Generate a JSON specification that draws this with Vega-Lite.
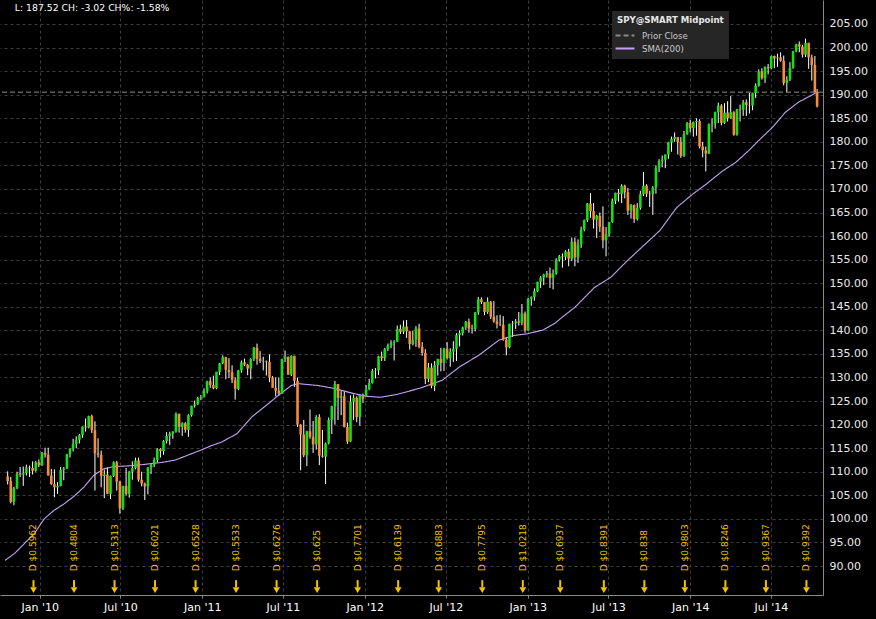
{
"$schema":"https://vega.github.io/schema/vega-lite/v6.json",
"width":823,"height":595,
"autosize":{"type":"none"},
"padding":{"left":0,"top":0,"right":53,"bottom":24},
"background":"#000000",
"datasets":{
"candles":[
{"d":"2009-10-21","o":109.0,"h":110.1,"l":107.3,"c":108.0},
{"d":"2009-10-28","o":108.0,"h":108.9,"l":103.3,"c":103.6},
{"d":"2009-11-04","o":103.6,"h":106.8,"l":102.9,"c":106.5},
{"d":"2009-11-11","o":106.5,"h":110.0,"l":106.3,"c":109.6},
{"d":"2009-11-18","o":109.6,"h":111.0,"l":108.9,"c":109.4},
{"d":"2009-11-25","o":109.4,"h":111.1,"l":107.0,"c":109.7},
{"d":"2009-12-02","o":109.7,"h":111.5,"l":109.2,"c":110.9},
{"d":"2009-12-09","o":110.9,"h":111.3,"l":108.9,"c":110.8},
{"d":"2009-12-16","o":110.8,"h":112.2,"l":109.4,"c":110.2},
{"d":"2009-12-23","o":110.2,"h":112.3,"l":110.0,"c":112.0},
{"d":"2009-12-30","o":112.0,"h":112.6,"l":111.0,"c":111.4},
{"d":"2010-01-06","o":111.4,"h":114.2,"l":111.2,"c":114.0},
{"d":"2010-01-13","o":114.0,"h":115.1,"l":113.0,"c":113.6},
{"d":"2010-01-20","o":113.6,"h":115.1,"l":109.2,"c":109.2},
{"d":"2010-01-27","o":109.2,"h":110.6,"l":107.2,"c":107.4},
{"d":"2010-02-03","o":107.4,"h":110.5,"l":104.6,"c":106.7},
{"d":"2010-02-10","o":106.7,"h":107.8,"l":105.3,"c":107.0},
{"d":"2010-02-17","o":107.0,"h":111.0,"l":106.9,"c":110.4},
{"d":"2010-02-24","o":110.4,"h":111.0,"l":108.2,"c":110.7},
{"d":"2010-03-03","o":110.7,"h":113.8,"l":110.6,"c":113.7},
{"d":"2010-03-10","o":113.7,"h":115.0,"l":113.0,"c":114.9},
{"d":"2010-03-17","o":114.9,"h":117.0,"l":114.3,"c":115.9},
{"d":"2010-03-24","o":115.9,"h":117.5,"l":115.0,"c":116.8},
{"d":"2010-03-31","o":116.8,"h":118.0,"l":116.0,"c":117.8},
{"d":"2010-04-07","o":117.8,"h":119.6,"l":117.2,"c":119.6},
{"d":"2010-04-14","o":119.6,"h":121.3,"l":118.5,"c":119.4},
{"d":"2010-04-21","o":119.4,"h":121.9,"l":119.2,"c":121.8},
{"d":"2010-04-28","o":121.8,"h":122.1,"l":118.2,"c":118.8},
{"d":"2010-05-05","o":118.8,"h":120.7,"l":106.0,"c":113.9},
{"d":"2010-05-12","o":113.9,"h":117.1,"l":113.0,"c":113.6},
{"d":"2010-05-19","o":113.6,"h":114.5,"l":106.7,"c":109.1},
{"d":"2010-05-26","o":109.1,"h":110.5,"l":104.4,"c":109.4},
{"d":"2010-06-02","o":109.4,"h":110.9,"l":105.3,"c":105.3},
{"d":"2010-06-09","o":105.3,"h":109.2,"l":104.2,"c":109.1},
{"d":"2010-06-16","o":109.1,"h":112.2,"l":108.9,"c":112.0},
{"d":"2010-06-23","o":112.0,"h":112.3,"l":106.0,"c":107.9},
{"d":"2010-06-30","o":107.9,"h":108.1,"l":101.1,"c":102.2},
{"d":"2010-07-07","o":102.2,"h":107.0,"l":101.9,"c":107.0},
{"d":"2010-07-14","o":107.0,"h":110.8,"l":105.0,"c":105.3},
{"d":"2010-07-21","o":105.3,"h":110.2,"l":104.5,"c":110.0},
{"d":"2010-07-28","o":110.0,"h":112.2,"l":108.3,"c":110.8},
{"d":"2010-08-04","o":110.8,"h":113.0,"l":110.5,"c":112.4},
{"d":"2010-08-11","o":112.4,"h":113.0,"l":107.9,"c":108.3},
{"d":"2010-08-18","o":108.3,"h":110.0,"l":106.9,"c":107.5},
{"d":"2010-08-25","o":107.5,"h":107.7,"l":104.0,"c":106.9},
{"d":"2010-09-01","o":106.9,"h":111.0,"l":105.2,"c":110.9},
{"d":"2010-09-08","o":110.9,"h":111.7,"l":109.5,"c":111.5},
{"d":"2010-09-15","o":111.5,"h":113.0,"l":111.0,"c":112.5},
{"d":"2010-09-22","o":112.5,"h":115.0,"l":112.0,"c":114.8},
{"d":"2010-09-29","o":114.8,"h":115.0,"l":113.0,"c":114.4},
{"d":"2010-10-06","o":114.4,"h":116.7,"l":113.6,"c":116.5},
{"d":"2010-10-13","o":116.5,"h":118.4,"l":116.0,"c":117.6},
{"d":"2010-10-20","o":117.6,"h":118.5,"l":115.7,"c":118.1},
{"d":"2010-10-27","o":118.1,"h":118.6,"l":117.0,"c":118.5},
{"d":"2010-11-03","o":118.5,"h":122.6,"l":118.3,"c":122.3},
{"d":"2010-11-10","o":122.3,"h":122.3,"l":118.3,"c":119.5},
{"d":"2010-11-17","o":119.5,"h":120.5,"l":117.6,"c":120.3},
{"d":"2010-11-24","o":120.3,"h":120.5,"l":118.3,"c":118.9},
{"d":"2010-12-01","o":118.9,"h":122.2,"l":117.4,"c":122.0},
{"d":"2010-12-08","o":122.0,"h":124.0,"l":121.7,"c":124.0},
{"d":"2010-12-15","o":124.0,"h":125.1,"l":123.6,"c":124.3},
{"d":"2010-12-22","o":124.3,"h":125.9,"l":124.2,"c":125.6},
{"d":"2010-12-29","o":125.6,"h":126.3,"l":125.2,"c":125.8},
{"d":"2011-01-05","o":125.8,"h":127.7,"l":125.8,"c":127.1},
{"d":"2011-01-12","o":127.1,"h":129.3,"l":126.6,"c":129.2},
{"d":"2011-01-19","o":129.2,"h":130.0,"l":127.8,"c":128.4},
{"d":"2011-01-26","o":128.4,"h":130.4,"l":127.5,"c":127.7},
{"d":"2011-02-02","o":127.7,"h":131.2,"l":127.5,"c":131.2},
{"d":"2011-02-09","o":131.2,"h":133.1,"l":130.5,"c":133.0},
{"d":"2011-02-16","o":133.0,"h":134.7,"l":132.8,"c":134.3},
{"d":"2011-02-23","o":134.3,"h":134.4,"l":129.6,"c":131.6},
{"d":"2011-03-02","o":131.6,"h":134.1,"l":129.9,"c":131.1},
{"d":"2011-03-09","o":131.1,"h":132.6,"l":128.8,"c":129.5},
{"d":"2011-03-16","o":129.5,"h":130.0,"l":125.3,"c":127.6},
{"d":"2011-03-23","o":127.6,"h":131.6,"l":127.3,"c":131.5},
{"d":"2011-03-30","o":131.5,"h":133.6,"l":131.0,"c":133.2},
{"d":"2011-04-06","o":133.2,"h":134.0,"l":132.4,"c":132.7},
{"d":"2011-04-13","o":132.7,"h":132.9,"l":130.5,"c":131.9},
{"d":"2011-04-20","o":131.9,"h":134.1,"l":129.6,"c":133.9},
{"d":"2011-04-27","o":133.9,"h":136.5,"l":133.5,"c":136.3},
{"d":"2011-05-04","o":136.3,"h":137.2,"l":132.7,"c":134.0},
{"d":"2011-05-11","o":134.0,"h":135.6,"l":133.1,"c":133.5},
{"d":"2011-05-18","o":133.5,"h":134.4,"l":131.5,"c":133.4},
{"d":"2011-05-25","o":133.4,"h":133.6,"l":130.4,"c":133.3},
{"d":"2011-06-01","o":133.3,"h":134.9,"l":129.0,"c":130.0},
{"d":"2011-06-08","o":130.0,"h":130.3,"l":127.9,"c":127.8},
{"d":"2011-06-15","o":127.8,"h":130.0,"l":126.0,"c":127.2},
{"d":"2011-06-22","o":127.2,"h":130.0,"l":126.1,"c":126.6},
{"d":"2011-06-29","o":126.6,"h":134.0,"l":126.5,"c":133.9},
{"d":"2011-07-06","o":133.9,"h":135.7,"l":133.3,"c":134.4},
{"d":"2011-07-13","o":134.4,"h":134.4,"l":130.6,"c":130.6},
{"d":"2011-07-20","o":130.6,"h":134.7,"l":130.3,"c":134.6},
{"d":"2011-07-27","o":134.6,"h":134.6,"l":128.0,"c":129.3},
{"d":"2011-08-03","o":129.3,"h":130.0,"l":119.5,"c":120.0},
{"d":"2011-08-10","o":120.0,"h":120.1,"l":110.3,"c":117.9},
{"d":"2011-08-17","o":117.9,"h":121.0,"l":113.1,"c":113.5},
{"d":"2011-08-24","o":113.5,"h":118.7,"l":111.2,"c":118.6},
{"d":"2011-08-31","o":118.6,"h":123.2,"l":117.0,"c":117.4},
{"d":"2011-09-07","o":117.4,"h":120.8,"l":114.0,"c":115.8},
{"d":"2011-09-14","o":115.8,"h":122.0,"l":114.7,"c":121.6},
{"d":"2011-09-21","o":121.6,"h":122.2,"l":111.4,"c":113.4},
{"d":"2011-09-28","o":113.4,"h":118.9,"l":113.0,"c":113.2},
{"d":"2011-10-05","o":113.2,"h":116.2,"l":107.4,"c":116.0},
{"d":"2011-10-12","o":116.0,"h":121.5,"l":115.8,"c":121.0},
{"d":"2011-10-19","o":121.0,"h":124.0,"l":118.0,"c":123.9},
{"d":"2011-10-26","o":123.9,"h":129.3,"l":120.0,"c":128.6},
{"d":"2011-11-02","o":128.6,"h":128.6,"l":121.0,"c":125.7},
{"d":"2011-11-09","o":125.7,"h":127.1,"l":122.0,"c":126.0},
{"d":"2011-11-16","o":126.0,"h":127.0,"l":119.4,"c":119.5},
{"d":"2011-11-23","o":119.5,"h":120.4,"l":115.9,"c":116.4},
{"d":"2011-11-30","o":116.4,"h":126.2,"l":116.3,"c":124.9},
{"d":"2011-12-07","o":124.9,"h":126.4,"l":121.0,"c":125.7},
{"d":"2011-12-14","o":125.7,"h":126.0,"l":120.5,"c":121.6},
{"d":"2011-12-21","o":121.6,"h":126.4,"l":119.8,"c":126.3},
{"d":"2011-12-28","o":126.3,"h":126.6,"l":124.6,"c":125.5},
{"d":"2012-01-04","o":126.0,"h":128.4,"l":125.9,"c":127.5},
{"d":"2012-01-11","o":127.5,"h":129.7,"l":127.3,"c":128.8},
{"d":"2012-01-18","o":128.8,"h":131.8,"l":128.7,"c":131.4},
{"d":"2012-01-25","o":131.4,"h":132.0,"l":129.8,"c":131.5},
{"d":"2012-02-01","o":131.5,"h":134.6,"l":130.5,"c":134.5},
{"d":"2012-02-08","o":134.5,"h":135.5,"l":133.5,"c":134.1},
{"d":"2012-02-15","o":134.1,"h":136.3,"l":133.5,"c":136.0},
{"d":"2012-02-22","o":136.0,"h":137.2,"l":135.6,"c":136.8},
{"d":"2012-02-29","o":136.8,"h":137.9,"l":136.2,"c":137.4},
{"d":"2012-03-07","o":137.4,"h":137.9,"l":133.6,"c":137.6},
{"d":"2012-03-14","o":137.6,"h":141.0,"l":137.6,"c":140.3},
{"d":"2012-03-21","o":140.3,"h":141.2,"l":139.2,"c":139.7},
{"d":"2012-03-28","o":139.7,"h":142.1,"l":139.2,"c":140.8},
{"d":"2012-04-04","o":140.8,"h":142.2,"l":138.4,"c":139.8},
{"d":"2012-04-11","o":139.8,"h":139.8,"l":135.9,"c":137.1},
{"d":"2012-04-18","o":137.1,"h":139.9,"l":136.8,"c":138.0},
{"d":"2012-04-25","o":138.0,"h":140.9,"l":136.5,"c":140.4},
{"d":"2012-05-02","o":140.4,"h":141.4,"l":136.2,"c":136.5},
{"d":"2012-05-09","o":136.5,"h":137.5,"l":134.6,"c":135.2},
{"d":"2012-05-16","o":135.2,"h":136.0,"l":128.6,"c":129.7},
{"d":"2012-05-23","o":129.7,"h":133.1,"l":129.0,"c":132.1},
{"d":"2012-05-30","o":132.1,"h":133.0,"l":127.7,"c":128.2},
{"d":"2012-06-06","o":128.2,"h":133.5,"l":127.1,"c":132.6},
{"d":"2012-06-13","o":132.6,"h":134.0,"l":130.4,"c":133.9},
{"d":"2012-06-20","o":133.9,"h":136.3,"l":131.3,"c":133.1},
{"d":"2012-06-27","o":133.1,"h":136.3,"l":131.4,"c":136.1},
{"d":"2012-07-04","o":136.1,"h":137.5,"l":133.8,"c":134.1},
{"d":"2012-07-11","o":134.1,"h":136.2,"l":132.3,"c":135.5},
{"d":"2012-07-18","o":135.5,"h":137.7,"l":133.3,"c":136.1},
{"d":"2012-07-25","o":136.1,"h":139.4,"l":133.5,"c":139.0},
{"d":"2012-08-01","o":139.0,"h":140.0,"l":136.6,"c":139.4},
{"d":"2012-08-08","o":139.4,"h":140.8,"l":138.9,"c":140.6},
{"d":"2012-08-15","o":140.6,"h":142.0,"l":140.1,"c":141.8},
{"d":"2012-08-22","o":141.8,"h":142.5,"l":139.5,"c":140.4},
{"d":"2012-08-29","o":140.4,"h":141.2,"l":139.3,"c":140.3},
{"d":"2012-09-05","o":140.3,"h":143.9,"l":139.8,"c":143.8},
{"d":"2012-09-12","o":143.8,"h":147.1,"l":143.3,"c":146.6},
{"d":"2012-09-19","o":146.6,"h":147.0,"l":145.6,"c":146.0},
{"d":"2012-09-26","o":146.0,"h":146.0,"l":143.2,"c":143.9},
{"d":"2012-10-03","o":143.9,"h":147.0,"l":143.5,"c":146.1},
{"d":"2012-10-10","o":146.1,"h":146.2,"l":142.4,"c":142.9},
{"d":"2012-10-17","o":142.9,"h":146.2,"l":141.6,"c":141.9},
{"d":"2012-10-24","o":141.9,"h":143.2,"l":140.4,"c":141.3},
{"d":"2012-10-31","o":141.3,"h":143.3,"l":140.9,"c":141.2},
{"d":"2012-11-07","o":141.2,"h":143.0,"l":137.8,"c":138.0},
{"d":"2012-11-14","o":138.0,"h":138.6,"l":134.7,"c":136.4},
{"d":"2012-11-21","o":136.4,"h":141.4,"l":136.2,"c":141.4},
{"d":"2012-11-28","o":141.4,"h":142.0,"l":138.6,"c":141.5},
{"d":"2012-12-05","o":141.5,"h":142.4,"l":140.3,"c":141.9},
{"d":"2012-12-12","o":141.9,"h":143.9,"l":141.0,"c":141.6},
{"d":"2012-12-19","o":141.6,"h":145.6,"l":141.1,"c":143.6},
{"d":"2012-12-26","o":143.6,"h":144.0,"l":139.5,"c":140.0},
{"d":"2013-01-02","o":140.0,"h":146.9,"l":140.0,"c":146.7},
{"d":"2013-01-09","o":146.7,"h":147.2,"l":145.2,"c":147.1},
{"d":"2013-01-16","o":147.1,"h":148.9,"l":146.3,"c":148.3},
{"d":"2013-01-23","o":148.3,"h":150.3,"l":148.1,"c":150.3},
{"d":"2013-01-30","o":150.3,"h":151.5,"l":149.0,"c":151.2},
{"d":"2013-02-06","o":151.2,"h":152.0,"l":149.6,"c":151.8},
{"d":"2013-02-13","o":151.8,"h":152.6,"l":151.2,"c":152.1},
{"d":"2013-02-20","o":152.1,"h":153.3,"l":149.0,"c":151.1},
{"d":"2013-02-27","o":151.1,"h":152.9,"l":148.7,"c":152.1},
{"d":"2013-03-06","o":152.1,"h":155.3,"l":151.8,"c":155.0},
{"d":"2013-03-13","o":155.0,"h":156.0,"l":154.6,"c":155.7},
{"d":"2013-03-20","o":155.7,"h":156.3,"l":153.3,"c":155.6},
{"d":"2013-03-27","o":155.6,"h":157.0,"l":154.9,"c":156.7},
{"d":"2013-04-03","o":156.7,"h":157.3,"l":153.6,"c":155.2},
{"d":"2013-04-10","o":155.2,"h":159.7,"l":154.7,"c":158.8},
{"d":"2013-04-17","o":158.8,"h":159.7,"l":153.6,"c":155.5},
{"d":"2013-04-24","o":155.5,"h":159.3,"l":154.3,"c":158.2},
{"d":"2013-05-01","o":158.2,"h":162.0,"l":157.5,"c":161.4},
{"d":"2013-05-08","o":161.4,"h":163.5,"l":161.0,"c":163.4},
{"d":"2013-05-15","o":163.4,"h":167.0,"l":163.0,"c":166.9},
{"d":"2013-05-22","o":166.9,"h":169.1,"l":163.9,"c":165.3},
{"d":"2013-05-29","o":165.3,"h":167.0,"l":161.6,"c":163.5},
{"d":"2013-06-05","o":163.5,"h":164.5,"l":159.6,"c":164.3},
{"d":"2013-06-12","o":164.3,"h":165.0,"l":160.9,"c":162.0},
{"d":"2013-06-19","o":162.0,"h":166.3,"l":157.4,"c":159.1},
{"d":"2013-06-26","o":159.1,"h":161.9,"l":155.7,"c":160.4},
{"d":"2013-07-03","o":160.4,"h":163.0,"l":159.9,"c":163.0},
{"d":"2013-07-10","o":163.0,"h":168.0,"l":162.8,"c":167.5},
{"d":"2013-07-17","o":167.5,"h":169.2,"l":166.8,"c":169.2},
{"d":"2013-07-24","o":169.2,"h":170.0,"l":167.3,"c":168.9},
{"d":"2013-07-31","o":168.9,"h":171.0,"l":167.0,"c":170.7},
{"d":"2013-08-07","o":170.7,"h":170.9,"l":168.0,"c":169.3},
{"d":"2013-08-14","o":169.3,"h":170.2,"l":164.5,"c":165.4},
{"d":"2013-08-21","o":165.4,"h":166.8,"l":163.7,"c":166.6},
{"d":"2013-08-28","o":166.6,"h":166.7,"l":162.8,"c":163.6},
{"d":"2013-09-04","o":163.6,"h":167.0,"l":163.3,"c":166.0},
{"d":"2013-09-11","o":166.0,"h":169.6,"l":165.6,"c":168.9},
{"d":"2013-09-18","o":168.9,"h":173.6,"l":168.5,"c":170.7},
{"d":"2013-09-25","o":170.7,"h":171.0,"l":168.3,"c":169.0},
{"d":"2013-10-02","o":169.0,"h":169.6,"l":166.2,"c":168.9},
{"d":"2013-10-09","o":168.9,"h":170.6,"l":164.5,"c":170.3},
{"d":"2013-10-16","o":170.3,"h":175.0,"l":169.0,"c":174.4},
{"d":"2013-10-23","o":174.4,"h":176.3,"l":173.6,"c":175.9},
{"d":"2013-10-30","o":175.9,"h":177.1,"l":174.6,"c":176.2},
{"d":"2013-11-06","o":176.2,"h":177.3,"l":174.4,"c":177.3},
{"d":"2013-11-13","o":177.3,"h":180.0,"l":176.4,"c":179.9},
{"d":"2013-11-20","o":179.9,"h":181.1,"l":177.9,"c":180.6},
{"d":"2013-11-27","o":180.6,"h":182.0,"l":180.0,"c":181.0},
{"d":"2013-12-04","o":181.0,"h":181.0,"l":177.3,"c":180.0},
{"d":"2013-12-11","o":180.0,"h":181.0,"l":176.6,"c":177.0},
{"d":"2013-12-18","o":177.0,"h":182.3,"l":176.8,"c":181.6},
{"d":"2013-12-25","o":181.6,"h":184.2,"l":181.5,"c":184.0},
{"d":"2014-01-01","o":184.0,"h":184.7,"l":182.0,"c":182.9},
{"d":"2014-01-08","o":182.9,"h":184.3,"l":181.1,"c":184.2},
{"d":"2014-01-15","o":184.2,"h":185.0,"l":181.3,"c":184.4},
{"d":"2014-01-22","o":184.4,"h":184.8,"l":178.6,"c":179.0},
{"d":"2014-01-29","o":179.0,"h":180.0,"l":176.7,"c":178.2},
{"d":"2014-02-05","o":178.2,"h":179.0,"l":173.7,"c":177.5},
{"d":"2014-02-12","o":177.5,"h":183.9,"l":177.4,"c":183.7},
{"d":"2014-02-19","o":183.7,"h":185.0,"l":182.0,"c":183.9},
{"d":"2014-02-26","o":183.9,"h":186.4,"l":182.8,"c":186.3},
{"d":"2014-03-05","o":186.3,"h":188.3,"l":184.0,"c":187.7},
{"d":"2014-03-12","o":187.7,"h":188.0,"l":183.5,"c":184.0},
{"d":"2014-03-19","o":184.0,"h":188.2,"l":183.8,"c":186.2},
{"d":"2014-03-26","o":186.2,"h":188.6,"l":184.3,"c":185.0},
{"d":"2014-04-02","o":185.0,"h":189.7,"l":184.9,"c":186.3},
{"d":"2014-04-09","o":186.3,"h":186.5,"l":181.3,"c":181.5},
{"d":"2014-04-16","o":181.5,"h":187.0,"l":181.3,"c":186.9},
{"d":"2014-04-23","o":186.9,"h":187.9,"l":184.3,"c":186.8},
{"d":"2014-04-30","o":186.8,"h":188.9,"l":185.5,"c":188.4},
{"d":"2014-05-07","o":188.4,"h":189.0,"l":185.5,"c":187.8},
{"d":"2014-05-14","o":187.8,"h":190.4,"l":186.0,"c":187.7},
{"d":"2014-05-21","o":187.7,"h":190.4,"l":186.7,"c":190.4},
{"d":"2014-05-28","o":190.4,"h":192.4,"l":189.3,"c":191.9},
{"d":"2014-06-04","o":191.9,"h":195.4,"l":191.7,"c":194.9},
{"d":"2014-06-11","o":194.9,"h":195.6,"l":193.2,"c":193.5},
{"d":"2014-06-18","o":193.5,"h":196.0,"l":192.5,"c":195.9},
{"d":"2014-06-25","o":195.9,"h":196.5,"l":194.3,"c":195.6},
{"d":"2014-07-02","o":195.6,"h":198.3,"l":195.4,"c":198.2},
{"d":"2014-07-09","o":198.2,"h":198.3,"l":195.6,"c":197.7},
{"d":"2014-07-16","o":197.7,"h":198.7,"l":195.9,"c":197.9},
{"d":"2014-07-23","o":197.9,"h":199.0,"l":197.0,"c":197.2},
{"d":"2014-07-30","o":197.2,"h":198.3,"l":192.0,"c":192.5},
{"d":"2014-08-06","o":192.5,"h":193.9,"l":190.5,"c":193.2},
{"d":"2014-08-13","o":193.2,"h":196.9,"l":192.9,"c":195.7},
{"d":"2014-08-20","o":195.7,"h":199.3,"l":195.5,"c":199.2},
{"d":"2014-08-27","o":199.2,"h":200.8,"l":199.0,"c":200.7},
{"d":"2014-09-03","o":200.7,"h":201.3,"l":199.0,"c":200.2},
{"d":"2014-09-10","o":200.2,"h":200.6,"l":197.9,"c":198.5},
{"d":"2014-09-17","o":198.5,"h":201.9,"l":198.0,"c":201.0},
{"d":"2014-09-24","o":201.0,"h":201.0,"l":195.5,"c":197.9},
{"d":"2014-10-01","o":197.9,"h":198.5,"l":193.0,"c":196.3},
{"d":"2014-10-08","o":196.3,"h":198.2,"l":190.5,"c":190.5},
{"d":"2014-10-13","o":190.5,"h":191.2,"l":187.3,"c":187.5}
],
"sma":[
{"d":"2009-10-15","v":91.2},{"d":"2009-11-06","v":92.7},{"d":"2009-11-28","v":94.8},{"d":"2009-12-20","v":96.9},
{"d":"2010-01-01","v":98.6},{"d":"2010-01-11","v":100.0},{"d":"2010-02-02","v":101.8},{"d":"2010-02-25","v":103.2},
{"d":"2010-03-19","v":104.8},{"d":"2010-04-10","v":106.7},{"d":"2010-05-02","v":109.2},{"d":"2010-05-24","v":110.6},
{"d":"2010-06-16","v":111.1},{"d":"2010-07-30","v":111.3},{"d":"2010-09-06","v":111.7},{"d":"2010-10-04","v":112.0},
{"d":"2010-11-02","v":112.5},{"d":"2010-11-29","v":113.5},{"d":"2011-01-01","v":114.7},{"d":"2011-01-23","v":115.6},
{"d":"2011-02-14","v":116.3},{"d":"2011-03-20","v":118.1},{"d":"2011-04-22","v":121.6},{"d":"2011-05-25","v":124.1},
{"d":"2011-06-21","v":126.2},{"d":"2011-07-20","v":128.3},{"d":"2011-08-04","v":128.7},{"d":"2011-09-18","v":128.3},
{"d":"2011-10-23","v":127.7},{"d":"2011-12-07","v":126.6},{"d":"2012-01-07","v":126.0},{"d":"2012-02-05","v":125.8},
{"d":"2012-03-13","v":126.4},{"d":"2012-05-03","v":127.7},{"d":"2012-06-23","v":129.4},{"d":"2012-07-31","v":132.2},
{"d":"2012-09-13","v":134.7},{"d":"2012-10-28","v":137.9},{"d":"2012-11-30","v":138.9},{"d":"2013-01-02","v":139.3},
{"d":"2013-02-05","v":140.1},{"d":"2013-03-03","v":141.5},{"d":"2013-03-25","v":143.2},{"d":"2013-04-17","v":144.9},
{"d":"2013-05-09","v":147.0},{"d":"2013-05-31","v":149.1},{"d":"2013-07-06","v":151.2},{"d":"2013-08-13","v":154.8},
{"d":"2013-10-25","v":161.2},{"d":"2013-12-02","v":166.1},{"d":"2014-01-08","v":169.0},{"d":"2014-02-07","v":171.1},
{"d":"2014-03-16","v":173.9},{"d":"2014-04-14","v":175.7},{"d":"2014-05-13","v":178.2},{"d":"2014-06-04","v":180.3},
{"d":"2014-07-05","v":183.1},{"d":"2014-08-03","v":186.3},{"d":"2014-09-01","v":188.4},{"d":"2014-10-13","v":190.5}
],
"divs":[
{"d":"2009-12-18","t":"D $0.5962"},{"d":"2010-03-19","t":"D $0.4804"},{"d":"2010-06-18","t":"D $0.5313"},{"d":"2010-09-17","t":"D $0.6021"},
{"d":"2010-12-17","t":"D $0.6528"},{"d":"2011-03-18","t":"D $0.5533"},{"d":"2011-06-17","t":"D $0.6276"},{"d":"2011-09-16","t":"D $0.625"},
{"d":"2011-12-16","t":"D $0.7701"},{"d":"2012-03-16","t":"D $0.6139"},{"d":"2012-06-15","t":"D $0.6883"},{"d":"2012-09-21","t":"D $0.7795"},
{"d":"2012-12-21","t":"D $1.0218"},{"d":"2013-03-15","t":"D $0.6937"},{"d":"2013-06-21","t":"D $0.8391"},{"d":"2013-09-20","t":"D $0.838"},
{"d":"2013-12-20","t":"D $0.9803"},{"d":"2014-03-21","t":"D $0.8246"},{"d":"2014-06-20","t":"D $0.9367"},{"d":"2014-09-19","t":"D $0.9392"}
],
"prior":[{"pc":190.54}],
"header":[{"t":"L: 187.52 CH: -3.02 CH%: -1.58%"}]
},
"layer":[
{"data":{"name":"candles"},
 "mark":{"type":"rule","color":"#ffffff","strokeWidth":1,"clip":true},
 "encoding":{
  "x":{"field":"d","type":"temporal","title":null,
   "scale":{"type":"utc","domain":[{"year":2009,"month":10,"date":15,"utc":true},{"year":2014,"month":10,"date":15,"utc":true}]},
   "axis":{"values":[{"year":2010,"month":1,"date":1,"utc":true},{"year":2010,"month":7,"date":1,"utc":true},{"year":2011,"month":1,"date":1,"utc":true},{"year":2011,"month":7,"date":1,"utc":true},{"year":2012,"month":1,"date":1,"utc":true},{"year":2012,"month":7,"date":1,"utc":true},{"year":2013,"month":1,"date":1,"utc":true},{"year":2013,"month":7,"date":1,"utc":true},{"year":2014,"month":1,"date":1,"utc":true},{"year":2014,"month":7,"date":1,"utc":true}],
    "labelExpr":"utcFormat(datum.value, \"%b '%y\")","labelColor":"#ffffff","labelFont":"DejaVu Sans","labelFontSize":11,"labelPadding":3,
    "domainColor":"#8a8a8a","tickColor":"#8a8a8a","tickSize":3,"grid":true,"gridColor":"#3d3d3d","gridDash":[3,3],"labelFlush":false,"labelOverlap":false}},
  "y":{"field":"l","type":"quantitative","title":null,
   "scale":{"domain":[83.85,210.09],"nice":false,"zero":false},
   "axis":{"orient":"right","values":[90,95,100,105,110,115,120,125,130,135,140,145,150,155,160,165,170,175,180,185,190,195,200,205],
    "format":".2f","labelColor":"#e8e8e8","labelFont":"DejaVu Sans","labelFontSize":11,"ticks":false,"labelPadding":6,"labelOverlap":false,"labelBound":false,
    "domainColor":"#8a8a8a","grid":true,"gridColor":"#3d3d3d","gridDash":[3,3]}},
  "y2":{"field":"h"}
 }},
{"data":{"name":"sma"},
 "mark":{"type":"line","strokeWidth":1.1,"clip":true},
 "encoding":{
  "x":{"field":"d","type":"temporal","title":null},
  "y":{"field":"v","type":"quantitative","title":null,
   "axis":{"orient":"right","values":[90,95,100,105,110,115,120,125,130,135,140,145,150,155,160,165,170,175,180,185,190,195,200,205],
    "format":".2f","labelColor":"#e8e8e8","labelFont":"DejaVu Sans","labelFontSize":11,"ticks":false,"labelPadding":6,"labelOverlap":false,"labelBound":false,
    "domainColor":"#8a8a8a","grid":true,"gridColor":"#3d3d3d","gridDash":[3,3]}},
  "color":{"datum":"SMA(200)","scale":{"domain":["Prior Close","SMA(200)"],"range":["#8c8c8c","#c6a2f5"]},
   "legend":{"title":"SPY@SMART Midpoint","orient":"none","legendX":612,"legendY":11}},
  "strokeDash":{"datum":"SMA(200)","scale":{"domain":["Prior Close","SMA(200)"],"range":[[5,3],[1,0]]},
   "legend":{"title":"SPY@SMART Midpoint","orient":"none","legendX":612,"legendY":11}}
 }},
{"data":{"name":"prior"},
 "mark":{"type":"rule","strokeWidth":1},
 "encoding":{
  "y":{"field":"pc","type":"quantitative","title":null,
   "axis":{"orient":"right","values":[90,95,100,105,110,115,120,125,130,135,140,145,150,155,160,165,170,175,180,185,190,195,200,205],
    "format":".2f","labelColor":"#e8e8e8","labelFont":"DejaVu Sans","labelFontSize":11,"ticks":false,"labelPadding":6,"labelOverlap":false,"labelBound":false,
    "domainColor":"#8a8a8a","grid":true,"gridColor":"#3d3d3d","gridDash":[3,3]}},
  "color":{"datum":"Prior Close"},
  "strokeDash":{"datum":"Prior Close"}
 }},
{"data":{"name":"candles"},
 "mark":{"type":"bar","width":2.6,"clip":true},
 "encoding":{
  "x":{"field":"d","type":"temporal","title":null},
  "y":{"field":"o","type":"quantitative","title":null,
   "axis":{"orient":"right","values":[90,95,100,105,110,115,120,125,130,135,140,145,150,155,160,165,170,175,180,185,190,195,200,205],
    "format":".2f","labelColor":"#e8e8e8","labelFont":"DejaVu Sans","labelFontSize":11,"ticks":false,"labelPadding":6,"labelOverlap":false,"labelBound":false,
    "domainColor":"#8a8a8a","grid":true,"gridColor":"#3d3d3d","gridDash":[3,3]}},
  "y2":{"field":"c"},
  "color":{"condition":{"test":"datum.c >= datum.o","value":"#14e014"},"value":"#f68c3c"}
 }},
{"data":{"name":"divs"},
 "mark":{"type":"text","angle":270,"align":"left","baseline":"middle","font":"DejaVu Sans","fontSize":9,"color":"#f2c200"},
 "encoding":{
  "x":{"field":"d","type":"temporal","title":null},
  "y":{"datum":88.9,"type":"quantitative"},
  "text":{"field":"t"}
 }},
{"data":{"name":"divs"},
 "mark":{"type":"rule","color":"#f5c400","strokeWidth":2},
 "encoding":{
  "x":{"field":"d","type":"temporal","title":null},
  "y":{"datum":87.0,"type":"quantitative"},
  "y2":{"datum":85.5}
 }},
{"data":{"name":"divs"},
 "mark":{"type":"point","shape":"triangle-down","filled":true,"size":45,"color":"#f5c400","opacity":1},
 "encoding":{
  "x":{"field":"d","type":"temporal","title":null},
  "y":{"datum":84.9,"type":"quantitative"}
 }},
{"data":{"name":"header"},
 "mark":{"type":"text","align":"left","baseline":"middle","font":"DejaVu Sans","fontSize":9.3,"color":"#ffffff"},
 "encoding":{
  "x":{"datum":{"year":2009,"month":11,"date":6,"utc":true},"type":"temporal"},
  "y":{"datum":208.4,"type":"quantitative"},
  "text":{"field":"t"}
 }}
],
"config":{
 "view":{"stroke":null},
 "axisY":{"tickCount":26},
 "legend":{"fillColor":"#262626","padding":5,"titleFont":"DejaVu Sans","titleFontSize":8.6,"titleFontWeight":"bold","titleColor":"#e6e6e6","titlePadding":3,
  "labelFont":"DejaVu Sans","labelFontSize":8.6,"labelColor":"#c8c8c8","symbolType":"M-1.35,0H1.35","symbolSize":196,"symbolStrokeWidth":2,"rowPadding":0,"labelOffset":9}
}
}
